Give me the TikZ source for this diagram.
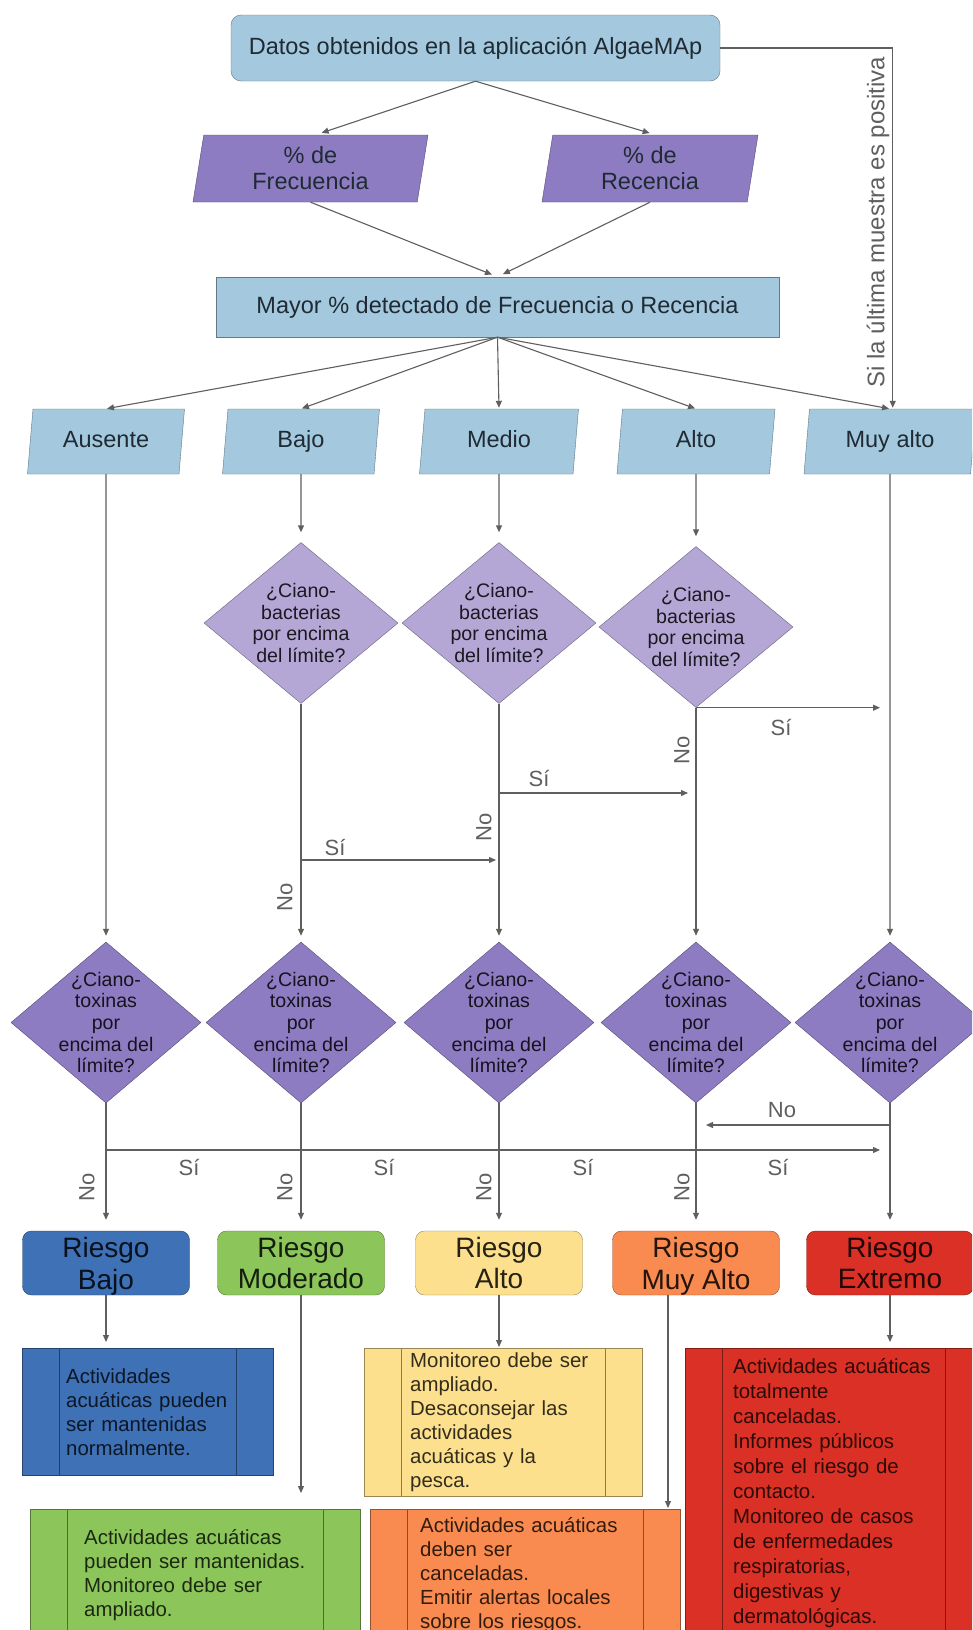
\documentclass[tikz,border=0pt]{standalone}
\usepackage{fontspec}
\setmainfont{Liberation Sans}
\usetikzlibrary{shapes.geometric,arrows.meta}
\definecolor{celeste}{HTML}{A4C9DF}
\definecolor{morado}{HTML}{8E7CC3}
\definecolor{lila}{HTML}{B4A7D6}
\definecolor{azul}{HTML}{3F71B7}
\definecolor{verde}{HTML}{8CC65A}
\definecolor{amarillo}{HTML}{FDE08D}
\definecolor{naranja}{HTML}{F98B50}
\definecolor{rojo}{HTML}{DA3025}
\definecolor{gris}{HTML}{5F5F5F}
\definecolor{tinta}{HTML}{1F2A33}
\tikzset{
  flecha/.style={draw=gris, line width=1.1pt, -{Triangle[length=7pt,width=6pt]}, shorten >=6pt},
  conector/.style={draw=gris, line width=1.1pt},
  caja/.style={rectangle, draw=celeste!60!black, fill=celeste, text=tinta, inner sep=0pt,
    font=\fontsize{23.5}{28}\selectfont},
  dato/.style={trapezium, trapezium left angle=76, trapezium right angle=104,
    trapezium stretches body, draw=#1!60!black, fill=#1, text=tinta, inner sep=0pt,
    minimum height=65pt, align=center, font=\fontsize{23.5}{26}\selectfont},
  nivel/.style={dato=celeste, text height=17pt, text depth=5pt},
  pregunta/.style={diamond, draw=#1!60!black, fill=#1, text=#1!15!black, aspect=1.2,
    inner sep=-14pt, minimum height=161pt, align=center, font=\fontsize{19.6}{21.7}\selectfont},
  riesgo/.style={rectangle, rounded corners=9pt, draw=#1!60!black, fill=#1, text=#1!15!black,
    minimum width=167pt, minimum height=64pt, inner sep=0pt, align=center,
    font=\fontsize{28}{31.7}\selectfont},
  accion/.style={rectangle, draw=#1!60!black, fill=#1, text=#1!20!black, anchor=north west,
    inner ysep=0pt, align=left, font=\fontsize{20.4}{24}\selectfont,
    path picture={
      \draw[#1!55!black, line width=1pt]
        ([xshift=37pt]path picture bounding box.north west) -- ([xshift=37pt]path picture bounding box.south west)
        ([xshift=-37pt]path picture bounding box.north east) -- ([xshift=-37pt]path picture bounding box.south east);
    }},
  etiq/.style={text=gris, inner sep=0pt, font=\fontsize{22}{24}\selectfont}
}

\begin{document}
\begin{tikzpicture}[x=1pt, y=-1pt]
  \useasboundingbox (0,0) rectangle (972,1630);
  \clip (0,0) rectangle (972,1630);
  \fill[white] (0,0) rectangle (972,1630);

  % datos de entrada
  \node[caja, rounded corners=10pt, minimum width=489pt, minimum height=66pt] (datos) at (475.5,48)
    {Datos obtenidos en la aplicación AlgaeMAp};
  \node[dato=morado, minimum width=235pt, minimum height=67pt] (frec) at (310.5,168.5) {\% de\\Frecuencia};
  \node[dato=morado, minimum width=216pt, minimum height=67pt] (rec) at (650,168.5) {\% de\\Recencia};
  \node[caja, minimum width=563pt, minimum height=60pt] (mayor) at (497.5,307)
    {Mayor \% detectado de Frecuencia o Recencia};

  % niveles
  \node[nivel, minimum width=157pt] (ausente) at (106,441.5) {Ausente};
  \node[nivel, minimum width=157pt] (bajo) at (301,441.5) {Bajo};
  \node[nivel, minimum width=159pt] (medio) at (499,441.5) {Medio};
  \node[nivel, minimum width=158pt] (alto) at (696,441.5) {Alto};
  \node[nivel, minimum width=172pt] (muyalto) at (890,441.5) {Muy alto};

  % cianobacterias
  \node[pregunta=lila, minimum width=194pt] (b2) at (301,623) {¿Ciano-\\bacterias\\por encima\\del límite?};
  \node[pregunta=lila, minimum width=194pt] (b3) at (499,623) {¿Ciano-\\bacterias\\por encima\\del límite?};
  \node[pregunta=lila, minimum width=194pt] (b4) at (696,627) {¿Ciano-\\bacterias\\por encima\\del límite?};

  % cianotoxinas
  \foreach \i/\x in {1/106,2/301,3/499,4/696,5/890}
    \node[pregunta=morado, minimum width=190pt] (t\i) at (\x,1022.5)
      {¿Ciano-\\toxinas\\por\\encima del\\límite?};

  % riesgos
  \node[riesgo=azul] (r1) at (106,1263) {Riesgo\\\smash{Bajo}};
  \node[riesgo=verde] (r2) at (301,1263) {Riesgo\\Moderado};
  \node[riesgo=amarillo] (r3) at (499,1263) {Riesgo\\Alto};
  \node[riesgo=naranja] (r4) at (696,1263) {Riesgo\\\smash{Muy Alto}};
  \node[riesgo=rojo] (r5) at (890,1263) {Riesgo\\Extremo};

  % acciones
  \node[accion=azul, inner xsep=44pt, text width=163pt, minimum height=127pt] (a1) at (22,1348)
    {Actividades\\acuáticas pueden\\ser mantenidas\\normalmente.};
  \node[accion=verde, inner xsep=54pt, text width=222pt, minimum height=131pt] (a2) at (30,1509)
    {Actividades acuáticas\\pueden ser mantenidas.\\Monitoreo debe ser\\ampliado.};
  \node[accion=amarillo, inner xsep=46pt, text width=186pt, minimum height=148pt] (a3) at (364,1348)
    {Monitoreo debe ser\\ampliado.\\Desaconsejar las\\actividades\\acuáticas y la\\pesca.};
  \node[accion=naranja, inner xsep=50pt, text width=210pt, minimum height=131pt] (a4) at (370,1509)
    {Actividades acuáticas\\deben ser\\canceladas.\\Emitir alertas locales\\sobre los riesgos.};
  \node[accion=rojo, inner xsep=48pt, inner ysep=10pt, text width=201pt,
    font=\fontsize{20.4}{25}\selectfont] (a5) at (685,1348)
    {Actividades acuáticas\\totalmente\\canceladas.\\Informes públicos\\sobre el riesgo de\\contacto.\\Monitoreo de casos\\de enfermedades\\respiratorias,\\digestivas y\\dermatológicas.};

  % conectores de arriba
  \draw[flecha] (datos.south) -- (frec.top side);
  \draw[flecha] (datos.south) -- (rec.top side);
  \draw[flecha] (frec.south) -- (mayor.north);
  \draw[flecha] (rec.south) -- (mayor.north);
  \foreach \n in {ausente,bajo,medio,alto,muyalto}
    \draw[flecha, shorten >=1pt] (mayor.south) -- (\n.north);
  \draw[flecha, shorten >=1pt] (datos.east) -| (muyalto.top side);
  \node[etiq, rotate=90, font=\fontsize{24}{26}\selectfont] (ultima) at (878,222)
    {Si la última muestra es positiva};

  % niveles a preguntas
  \draw[flecha] (ausente.south) -- (t1.north);
  \draw[flecha, shorten >=10pt] (bajo.south) -- (b2.north);
  \draw[flecha, shorten >=10pt] (medio.south) -- (b3.north);
  \draw[flecha, shorten >=10pt] (alto.south) -- (b4.north);
  \draw[flecha] (muyalto.south) -- (t5.north);

  % ramas de cianobacterias
  \draw[flecha] (b2.south) -- (t2.north);
  \draw[flecha, shorten >=3pt] (b2.south |- 0,860) -- (b3.south |- 0,860);
  \node[etiq] (si2) at (335,847) {Sí};
  \node[etiq, rotate=90] (no2) at (285,897) {No};
  \draw[flecha] (b3.south) -- (t3.north);
  \draw[flecha, shorten >=8pt] (b3.south |- 0,793) -- (b4.south |- 0,793);
  \node[etiq] (si3) at (539,778) {Sí};
  \node[etiq, rotate=90] (no3) at (484,827) {No};
  \draw[flecha] (b4.south) -- (t4.north);
  \draw[flecha, shorten >=10pt] (b4.south) -- (b4.south -| t5.north);
  \node[etiq] (si4) at (781,727) {Sí};
  \node[etiq, rotate=90] (no4) at (682,750) {No};

  % ramas de cianotoxinas
  \foreach \i in {1,...,5}
    \draw[flecha, shorten >=11pt] (t\i.south) -- (r\i.north);
  \draw[flecha, shorten >=10pt] (t1.south |- 0,1150) -- (t5.south |- 0,1150);
  \draw[flecha, shorten >=10pt] (t5.south |- 0,1125) -- (t4.south |- 0,1125);
  \node[etiq] (no5) at (782,1110) {No};
  \foreach \i/\x in {1/189,2/384,3/583,4/778}
    \node[etiq] (sit\i) at (\x,1167) {Sí};
  \foreach \i/\x in {1/87,2/285,3/484,4/682}
    \node[etiq, rotate=90] (not\i) at (\x,1187) {No};

  % riesgos a acciones
  \draw[flecha] (r1.south) -- (r1.south |- a1.north);
  \draw[flecha, shorten >=16pt] (r2.south) -- (r2.south |- a2.north);
  \draw[flecha, shorten >=1pt] (r3.south) -- (r3.south |- a3.north);
  \draw[flecha, shorten >=1pt] ([xshift=-28pt]r4.south) -- ([xshift=-28pt]r4.south |- a4.north);
  \draw[flecha] (r5.south) -- (r5.south |- a5.north);
\end{tikzpicture}
\end{document}
